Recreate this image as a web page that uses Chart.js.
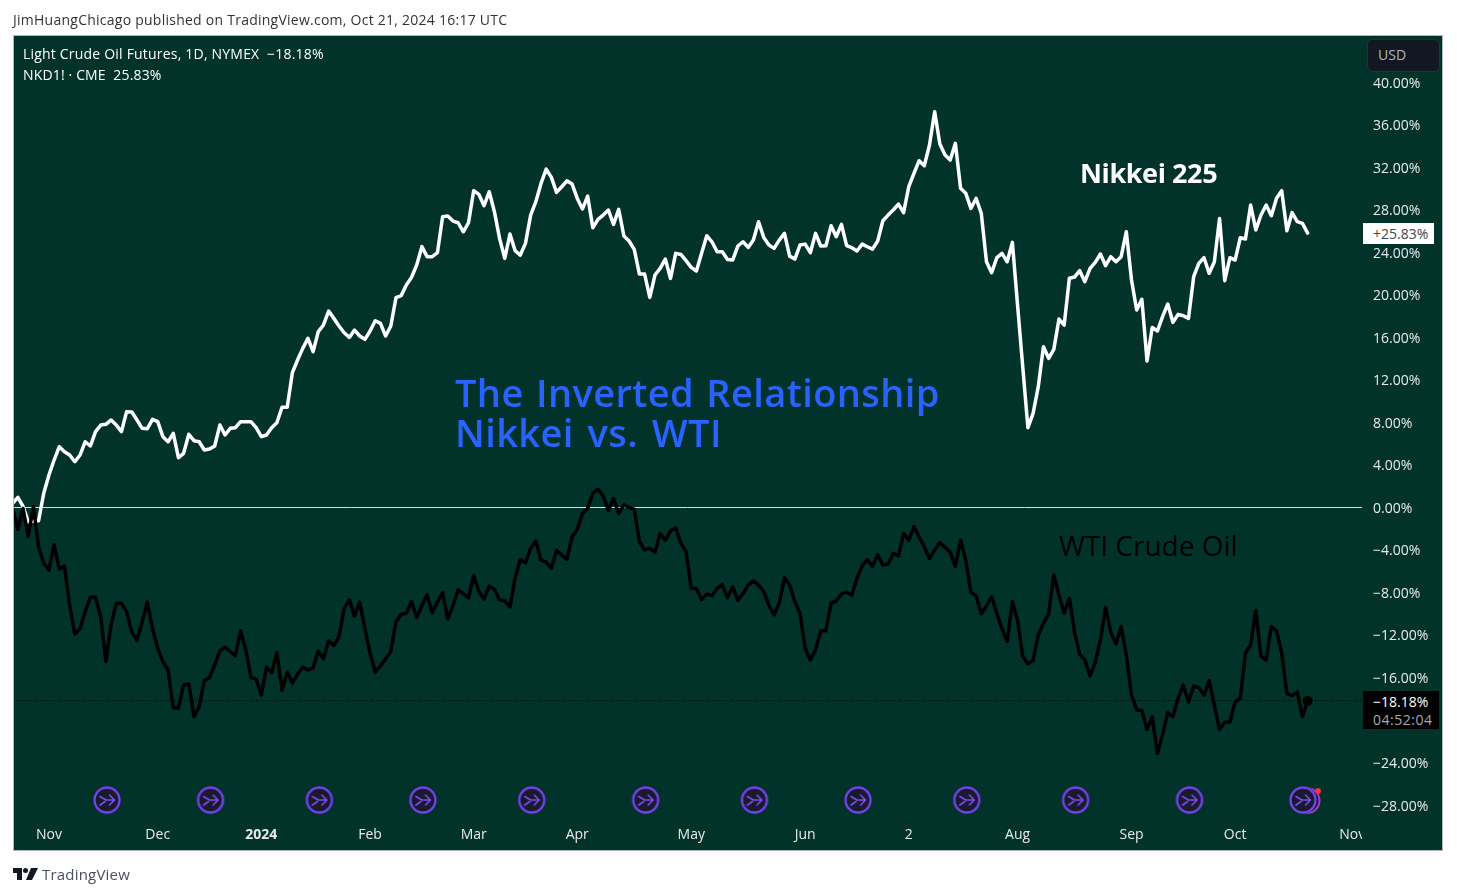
<!DOCTYPE html>
<html><head><meta charset="utf-8">
<style>
html,body{margin:0;padding:0;background:#fff;width:1457px;height:896px;overflow:hidden}
#c{position:absolute;left:0;top:0;width:1457px;height:896px}
.t{position:absolute;white-space:pre;font-family:"Open Sans","Noto Sans",sans-serif;line-height:1}
</style></head><body>
<canvas id="c" width="1457" height="896"></canvas>
<div class="t" style="left:13px;top:13px;font-size:14px;letter-spacing:.25px;color:#333">JimHuangChicago published on TradingView.com, Oct 21, 2024 16:17 UTC</div>
<div class="t" style="left:23px;top:47px;font-size:14px;letter-spacing:.2px;color:#fff">Light Crude Oil Futures, 1D, NYMEX  −18.18%</div>
<div class="t" style="left:23px;top:68px;font-size:14px;letter-spacing:.15px;color:#fff">NKD1! · CME  25.83%</div>
<div style="position:absolute;left:1367px;top:39px;width:71px;height:31px;background:#131722;border:1px solid #2a2e39;border-radius:6px"></div>
<div class="t" style="left:1378px;top:48px;font-size:14px;color:#b2b5be">USD</div>
<div class="t" style="left:1080px;top:159px;font-size:27px;font-weight:700;letter-spacing:-.4px;color:#fff">Nikkei 225</div>
<div class="t" style="left:1059px;top:531px;font-size:28px;font-weight:500;color:#000">WTI Crude Oil</div>
<div class="t" style="left:455px;top:373px;font-size:38px;font-weight:600;letter-spacing:.4px;word-spacing:2px;color:#2962ff">The Inverted Relationship</div>
<div class="t" style="left:455px;top:413px;font-size:38px;font-weight:600;letter-spacing:.4px;word-spacing:3.5px;color:#2962ff">Nikkei vs. WTI</div>
<div style="position:absolute;left:1363px;top:223px;width:71px;height:21px;background:#fff"></div>
<div class="t" style="left:1373px;top:227px;font-size:14px;color:#444">+25.83%</div>
<div style="position:absolute;left:1363px;top:691px;width:76px;height:38px;background:#000"></div>
<div class="t" style="left:1373px;top:695px;font-size:14px;color:#fff">−18.18%</div>
<div class="t" style="left:1373px;top:713px;font-size:14px;letter-spacing:.5px;color:#aaa">04:52:04</div>
<svg style="position:absolute;left:13px;top:868px" width="25" height="12" viewBox="0 0 25 12"><path d="M0 0H9V12H4V5H0Z" fill="#131722"/><circle cx="12.5" cy="2.5" r="2.5" fill="#131722"/><path d="M18 0H25L19 12H13Z" fill="#131722"/></svg>
<div class="t" style="left:42px;top:867px;font-size:15px;letter-spacing:.2px;color:#4a4f5c">TradingView</div>
<script src="https://cdn.jsdelivr.net/npm/chart.js@4/dist/chart.umd.min.js"></script>
<script>
const wti=[-0.1,-2.05,-0.1,-2.7,0.1,-3.7,-5.25,-5.9,-3.5,-5.8,-5.5,-9.2,-11.9,-11.4,-9.8,-8.45,-8.45,-10.3,-14.5,-11.05,-9,-9,-9.8,-11.7,-12.5,-10.75,-8.9,-11.4,-13.25,-14.5,-15.3,-18.85,-18.9,-16.7,-16.6,-19.7,-18.75,-16.3,-16,-14.8,-13.5,-13.15,-13.55,-13.95,-11.6,-13.4,-16,-16.15,-17.65,-15,-15.55,-13.65,-17.2,-15.5,-16.5,-15.7,-15,-15.3,-15.1,-13.5,-14.25,-12.55,-13,-12.15,-9.5,-8.7,-10.2,-8.9,-11.4,-13.7,-15.5,-14.9,-14.25,-13.55,-10.75,-10.05,-9.95,-8.85,-10.35,-9.25,-8.2,-9.9,-8.9,-8,-10.5,-9.25,-7.75,-8.1,-8.5,-6.4,-7.9,-8.6,-7.4,-7.7,-8.7,-8.8,-9.35,-6.65,-4.9,-5.2,-3.85,-3.15,-4.95,-5.15,-5.7,-4.05,-4.45,-4.9,-2.75,-2.05,-0.55,-0.1,1.35,1.7,1.1,-0.3,0.85,-0.55,0.25,0,-0.15,-3.2,-4,-3.85,-4.2,-2.45,-3.1,-2.2,-1.9,-3.35,-4.15,-7.6,-7.65,-8.65,-8.15,-8.3,-7.6,-7.25,-8.5,-7.45,-8.75,-8.1,-7.3,-6.9,-7.3,-7.9,-9.2,-10.1,-9,-6.6,-7.3,-8.85,-9.95,-13.25,-14.35,-13.4,-11.6,-11.6,-9,-8.8,-8.15,-7.95,-8.25,-6.65,-5.5,-4.9,-5.55,-4.45,-5.4,-5.35,-4.3,-4.55,-2.45,-3.1,-1.8,-2.75,-3.7,-4.8,-4,-3.3,-3.75,-4.2,-5.55,-3.05,-4.95,-8,-8.3,-10,-9.25,-8.4,-9.95,-11.4,-12.6,-8.85,-10.6,-14,-14.7,-14.4,-12,-10.9,-10,-6.35,-8.25,-9.95,-8.55,-11.7,-13.8,-14.35,-15.85,-14.6,-12.45,-9.4,-11.7,-12.85,-11.2,-13.9,-17.65,-19.05,-19.1,-20.9,-19.7,-23.15,-21.4,-19.3,-19.7,-17.95,-16.7,-18.3,-16.8,-16.95,-17.65,-16.3,-18.6,-20.9,-20.2,-20.2,-18.3,-17.95,-13.7,-12.95,-9.7,-14,-14.35,-11.2,-11.6,-13.7,-17.5,-17.7,-17.35,-19.7,-18.18];
const nikkei=[0.4,0.95,0.1,-1.35,-1.3,-1.25,1.35,3.06,4.47,5.72,5.25,4.94,4.31,4.94,6.19,5.79,7.14,7.76,7.83,8.24,7.76,7.14,9.02,8.99,8.24,7.45,7.42,8.3,8.08,6.67,6.19,6.98,4.69,5.1,6.89,6.29,6.19,5.41,5.5,5.79,7.76,6.82,7.45,7.51,8.08,8.08,8.08,7.51,6.67,6.82,7.51,7.98,9.43,9.43,12.69,13.88,14.98,15.92,14.67,16.55,17.18,18.49,17.8,17.08,16.45,16.01,16.7,16.14,15.83,16.61,17.58,17.33,16.14,17.08,19.75,19.94,20.94,21.66,22.82,24.55,23.61,23.61,23.98,27.37,27.43,26.96,26.8,25.95,26.8,29.81,29.47,28.4,29.72,27.84,25.33,23.45,25.74,24.17,23.76,24.86,27.52,28.78,30.5,31.85,31.07,29.66,30.19,30.75,30.44,29.09,28.09,29.31,26.33,27.12,27.52,28,26.65,28.06,25.55,25.08,24.29,21.97,21.97,19.77,21.88,22.5,23.38,21.56,23.92,23.82,23.23,22.6,22.25,23.92,25.58,25.01,24.07,24.07,23.35,23.29,24.61,25.01,24.48,25.17,26.9,25.42,24.7,24.39,25.17,25.8,23.66,23.38,24.7,24.79,23.98,25.8,24.61,24.64,26.52,25.48,26.65,24.64,24.45,24.14,24.79,24.54,24.32,25.08,26.99,27.52,28,28.56,27.75,30.19,31.45,32.64,32.17,34.12,37.25,34.21,33.17,32.7,34.27,30.04,29.57,28.15,29.1,27.68,23.13,22.1,23.51,23.92,23.13,24.95,19.06,13.25,7.51,8.86,11.37,15.13,14.04,14.88,17.74,17.17,21.57,21.69,22.29,21.25,22.51,23.07,23.86,22.76,23.61,23.13,23.61,25.96,21.41,18.59,19.59,13.79,16.95,16.61,17.96,19.15,17.42,18.18,18.05,17.8,21.72,22.98,23.51,22.04,23.13,27.21,21.35,23.51,23.29,25.39,25.27,28.47,26.12,27.53,28.47,27.46,29.1,29.82,26.05,27.75,26.9,26.74,25.83];
const yTicks=[40,36,32,28,24,20,16,12,8,4,0,-4,-8,-12,-16,-24,-28];
const xTickIdx=[7,28,48,69,89,109,131,153,173,194,216,236,258.6];
const xTickLabels=["Nov","Dec","2024","Feb","Mar","Apr","May","Jun","2","Aug","Sep","Oct","Nov"];
const eventIdx=[18.2,38.2,59.2,79.2,100.2,122.2,143.2,163.2,184.2,205.2,227.2,249.1];
const eventLevel=-27.53;
const lastWti=-18.18;
const xMin=0.06,xMax=260.5,yMin=-29.41,yMax=44.47;
const PANEL="#02332b";

function icon(extra){
  const c=document.createElement('canvas');c.width=c.height=60;
  const g=c.getContext('2d');const m=30,r=12.5;
  if(extra){
    g.beginPath();g.arc(m+4,m+0.5,r,0,Math.PI*2);g.fillStyle='#131722';g.fill();
    g.strokeStyle='#b03ad0';g.lineWidth=2;g.stroke();
  }
  g.beginPath();g.arc(m,m,r+1.5,0,Math.PI*2);g.fillStyle='#1a1a2e';g.fill();
  g.beginPath();g.arc(m,m,r,0,Math.PI*2);g.strokeStyle='#6f45e8';g.lineWidth=2.4;g.stroke();
  g.strokeStyle='#7a50ee';g.lineWidth=1.6;g.lineCap='round';g.lineJoin='round';
  g.beginPath();g.moveTo(m-7,m-3.5);g.lineTo(m-1,m);g.lineTo(m+7,m);g.moveTo(m+2.5,m-5);g.lineTo(m+7.5,m);g.lineTo(m+2.5,m+5);g.moveTo(m-7,m+5);g.lineTo(m-2,m+1.5);g.stroke();
  if(extra){g.beginPath();g.arc(m+15,m-9,3,0,Math.PI*2);g.fillStyle='#f23645';g.fill();}
  return c;
}
const iconA=icon(false),iconB=icon(true);

const panel={id:'panel',
  beforeDraw(ch){const g=ch.ctx;g.save();g.fillStyle='#fff';g.fillRect(0,0,1457,896);g.fillStyle=PANEL;g.fillRect(13,35,1430,816);g.restore();},
  afterDatasetsDraw(ch){const g=ch.ctx;g.save();g.fillStyle=PANEL;g.fillRect(1362,821,81,30);g.restore();
    g.save();g.translate(0,1.5);},
  afterDraw(ch){const g=ch.ctx;g.restore();g.save();g.strokeStyle='#b2b5be';g.lineWidth=1;g.strokeRect(13.5,35.5,1429,815);g.restore();}
};
new Chart(document.getElementById('c'),{
  type:'line',
  plugins:[panel],
  data:{datasets:[
    {data:eventIdx.map(i=>({x:i,y:eventLevel})),showLine:false,
      pointStyle:c=>c.dataIndex===eventIdx.length-1?iconB:iconA,pointRadius:14},
    {data:wti.map((v,i)=>({x:i,y:v})),borderColor:'#000',borderWidth:3.5,tension:0,borderJoinStyle:'round',borderCapStyle:'round',
      pointRadius:c=>c.dataIndex===wti.length-1?5:0,pointBackgroundColor:'#000',pointBorderWidth:0},
    {data:nikkei.map((v,i)=>({x:i,y:v})),borderColor:'#fff',borderWidth:3.5,tension:0,borderJoinStyle:'round',borderCapStyle:'round',pointRadius:0},
    {data:[{x:xMin,y:lastWti},{x:xMax,y:lastWti}],borderColor:'#000',borderWidth:1,borderDash:[1,2],pointRadius:0}
  ]},
  options:{
    responsive:false,animation:false,devicePixelRatio:1,
    layout:{autoPadding:false,padding:{left:13,top:35,right:14,bottom:45}},
    plugins:{legend:{display:false},tooltip:{enabled:false},title:{display:false}},
    events:[],
    scales:{
      x:{type:'linear',min:xMin,max:xMax,
        afterBuildTicks(s){s.ticks=xTickIdx.map(v=>({value:v}));},
        afterFit(s){s.height=31;s.paddingLeft=0;s.paddingRight=0;},
        grid:{display:false},border:{display:false},
        ticks:{autoSkip:false,maxRotation:0,minRotation:0,padding:-1,color:'#e8eaee',
          font:c=>({family:'"Open Sans"',size:14,weight:(xTickLabels[xTickIdx.indexOf(c.tick&&c.tick.value)]==='2024')?'bold':'normal'}),
          callback:(v)=>xTickLabels[xTickIdx.indexOf(v)]}},
      y:{type:'linear',position:'right',min:yMin,max:yMax,
        afterBuildTicks(s){s.ticks=yTicks.map(v=>({value:v}));},
        afterFit(s){s.width=81;s.paddingTop=0;s.paddingBottom=0;},
        border:{display:false},
        grid:{drawTicks:false,color:c=>c.tick&&c.tick.value===0?'#d8dbe2':'transparent',lineWidth:1},
        ticks:{z:1,autoSkip:false,crossAlign:'near',padding:11,color:'#e8eaee',font:{family:'"Open Sans"',size:14},
          callback:v=>(v<0?'\u2212':'')+Math.abs(v).toFixed(2)+'%'}}
    }
  }
});
</script>
</body></html>
